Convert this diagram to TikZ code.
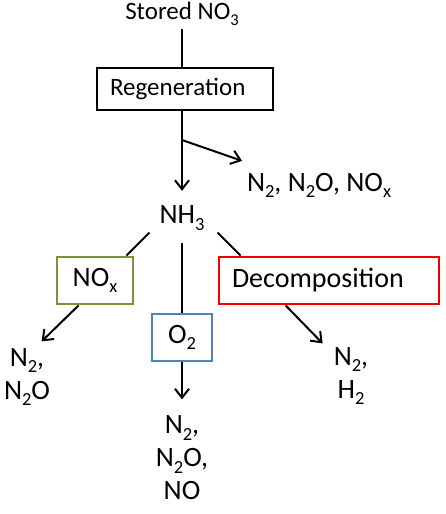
\documentclass[tikz,border=0pt]{standalone}
\usepackage{fontspec}
\setmainfont{Carlito}
\usetikzlibrary{arrows.meta,positioning}
\definecolor{boxgreen}{HTML}{77933C}
\definecolor{boxblue}{HTML}{4F81BD}
\definecolor{boxred}{HTML}{F00000}
\newcommand{\chsub}[1]{\raisebox{-0.22em}{\fontsize{0.66em}{0.66em}\selectfont #1}}

\begin{document}
\begin{tikzpicture}[x=1pt, y=-1pt, line width=2pt,
    lbl/.style={font=\fontsize{28}{33}\selectfont, align=center, inner sep=0pt},
    stepbox/.style={draw, line width=1.3pt, font=\fontsize{25}{30}\selectfont, text width=150pt, align=left, inner xsep=13pt, minimum height=42pt},
    cbox/.style={draw=#1, line width=2.8pt, font=\fontsize{28}{33}\selectfont, minimum height=47pt, inner sep=0pt},
    arr/.style={-{Straight Barb[length=9pt,width=14pt,line width=2pt]}}
]
    \useasboundingbox (0,0) rectangle (446,514);

    \node[lbl, font=\fontsize{25}{30}\selectfont, inner sep=3pt] (stored) at (182,14) {Stored NO\chsub{3}};
    \node[stepbox] (regen) at (185,89) {Regeneration};
    \coordinate (split) at (182,140);
    \node[lbl, anchor=west] (nitro) at (246,185) {N\chsub{2}, N\chsub{2}O, NO\chsub{x}};
    \node[lbl] (nh3) at (182,218) {NH\chsub{3}};

    \node[cbox=boxgreen, minimum width=76pt] (nox) at (95,280.5) {NO\chsub{x}};
    \node[cbox=boxblue, minimum width=60pt] (o2) at (182,337.5) {O\chsub{2}};
    \node[cbox=boxred, minimum width=220pt, text width=194pt, align=left, inner xsep=13pt] (decomp) at (329,280.5) {Decomposition};

    \node[lbl] (pleft) at (27,377) {N\chsub{2},\\N\chsub{2}O};
    \node[lbl] (pmid) at (182,458) {N\chsub{2},\\N\chsub{2}O,\\NO};
    \node[lbl] (pright) at (351,376) {N\chsub{2},\\H\chsub{2}};

    \draw (stored.south) -- (stored.south |- regen.north);
    \draw[arr] (stored.south |- regen.south) -- ([yshift=14pt]nh3.north);
    \draw[arr] (split) -- ([xshift=-4pt,yshift=11pt]nitro.north west);

    \draw ([xshift=-8pt]nox.north east) -- ++(23,-23);
    \draw ([yshift=-12pt]nh3.south) -- (o2.north);
    \draw ([xshift=23pt]decomp.north west) -- ++(-23,-23);

    \draw[arr] ([xshift=23pt]nox.south west) -- ++(-37,36);
    \draw[arr] (o2.south) -- ++(0,37);
    \draw[arr] ([xshift=68pt]decomp.south west) -- ++(37,38);
\end{tikzpicture}
\end{document}
